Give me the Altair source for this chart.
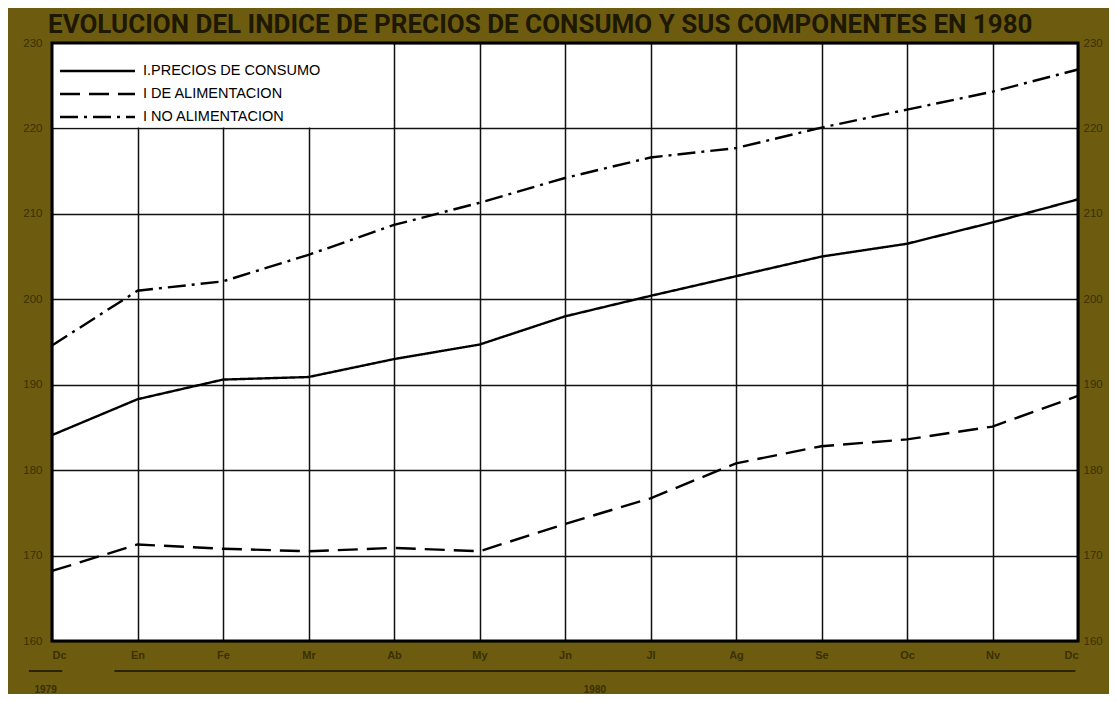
import json
import altair as alt
import pandas as pd

# ---------------- data ----------------
months = ["Dc", "En", "Fe", "Mr", "Ab", "My", "Jn", "Jl", "Ag", "Se", "Oc", "Nv", "Dc"]
series_names = ["I.PRECIOS DE CONSUMO", "I DE ALIMENTACION", "I NO ALIMENTACION"]
ipc = [184.1, 188.3, 190.6, 190.9, 193.0, 194.7, 198.0, 200.4, 202.7, 205.0, 206.5, 209.0, 211.7]
alim = [168.2, 171.3, 170.8, 170.5, 170.9, 170.5, 173.7, 176.7, 180.8, 182.8, 183.6, 185.1, 188.7]
no_alim = [194.6, 201.0, 202.1, 205.2, 208.7, 211.3, 214.2, 216.6, 217.7, 220.1, 222.2, 224.3, 226.9]
y_ticks = [160, 170, 180, 190, 200, 210, 220, 230]
years = ["1979", "1980"]
year_first = [0, 1]
year_last = [0, 12]
title_text = "EVOLUCION DEL INDICE DE PRECIOS DE CONSUMO Y SUS COMPONENTES EN 1980"

# ---------------- tables ----------------
rows = []
for name, vals in zip(series_names, [ipc, alim, no_alim]):
    for i, v in enumerate(vals):
        rows.append({"idx": i, "serie": name, "valor": v})
df = pd.DataFrame(rows)

W, H = 1026, 598
BG = "#6d5c10"
LAB = "#3a3000"
FONT = "Liberation Sans"

dash_range = [[1, 0], [20, 9], [18, 6, 3, 6]]
dash = alt.StrokeDash("serie:N", scale=alt.Scale(domain=series_names, range=dash_range), legend=None)

xscale = alt.Scale(domain=[0, len(months) - 1], nice=False, zero=False)
yscale = alt.Scale(domain=[y_ticks[0], y_ticks[-1]], nice=False, zero=False)

label_expr = json.dumps(months) + "[datum.value]"

x_axis = alt.Axis(values=list(range(len(months))), labelExpr=label_expr, grid=True,
                  gridColor="#111", gridWidth=1.5, gridOpacity=1, ticks=False, domain=False,
                  title=None, labelColor=LAB, labelFontSize=11, labelFontWeight="bold",
                  labelFont=FONT, labelPadding=8)
y_axis_left = alt.Axis(values=y_ticks, grid=True, gridColor="#111", gridWidth=1.5, gridOpacity=1,
                       ticks=False, domain=False, title=None, labelColor=LAB, labelFontSize=11.5,
                       labelFont=FONT, labelPadding=10)
y_axis_right = alt.Axis(values=y_ticks, orient="right", grid=False, ticks=False, domain=False,
                        title=None, labelColor=LAB, labelFontSize=11.5, labelFont=FONT, labelPadding=5)

lines = alt.Chart(df).mark_line(color="black", strokeWidth=2.4, strokeCap="butt").encode(
    x=alt.X("idx:Q", scale=xscale, axis=x_axis),
    y=alt.Y("valor:Q", scale=yscale, axis=y_axis_left),
    strokeDash=dash,
    detail="serie:N",
)

# right-hand axis (same scale)
right_axis = alt.Chart(pd.DataFrame({"v": y_ticks})).mark_point(opacity=0).encode(
    y=alt.Y("v:Q", scale=yscale, axis=y_axis_right)
)

# legend box (white cell over the grid, top-left)
leg_box = pd.DataFrame({"x0": [0 + 0.012], "x1": [4 - 0.012],
                        "y0": [y_ticks[-2] + 0.12], "y1": [y_ticks[-1]]})
legend_bg = alt.Chart(leg_box).mark_rect(fill="white", stroke=None).encode(
    x=alt.X("x0:Q", scale=xscale, axis=x_axis), x2="x1:Q",
    y=alt.Y("y0:Q", scale=yscale, axis=None), y2="y1:Q",
)

leg = pd.DataFrame({"serie": series_names, "ly": [28 + 23 * i for i in range(len(series_names))]})
legend_lines = alt.Chart(leg).mark_rule(color="black", strokeWidth=2.4).encode(
    x=alt.value(8), x2=alt.value(83),
    y=alt.Y("ly:Q", scale=None),
    strokeDash=dash,
)
legend_text = alt.Chart(leg).mark_text(align="left", baseline="middle", fontSize=14.5,
                                       font=FONT, color="black").encode(
    x=alt.value(91), y=alt.Y("ly:Q", scale=None), text="serie:N"
)

# frame around the plot area
frame = alt.Chart(pd.DataFrame({"a": [0]})).mark_rect(fill=None, stroke="black", strokeWidth=3).encode(
    x=alt.value(0), x2=alt.value(W), y=alt.value(0), y2=alt.value(H)
)

# year annotations below the month labels
yr = pd.DataFrame({
    "year": years,
    "x0": [f - 0.27 for f in year_first],
    "x1": [l + 0.12 if f == l else l - 0.03 for f, l in zip(year_first, year_last)],
})
yr["xm"] = (yr["x0"] + yr["x1"]) / 2
year_rules = alt.Chart(yr).mark_rule(color="#2a2300", strokeWidth=2).encode(
    x=alt.X("x0:Q", scale=xscale, axis=x_axis), x2="x1:Q", y=alt.value(H + 30)
)
year_text = alt.Chart(yr).mark_text(fontSize=10, font=FONT, fontWeight="bold", color=LAB,
                                    baseline="middle").encode(
    x=alt.X("xm:Q", scale=xscale, axis=x_axis), y=alt.value(H + 49), text="year:N"
)

# chart title drawn as a text mark above the plot area
title = alt.Chart(pd.DataFrame({"t": [title_text]})).mark_text(
    align="left", baseline="alphabetic", fontSize=26, fontWeight="bold", font="Roboto",
    color="#1e1800"
).encode(x=alt.value(-4), y=alt.value(-10), text="t:N")

chart = alt.layer(
    lines, right_axis, legend_bg, legend_lines, legend_text, frame, year_rules, year_text, title
).resolve_scale(y="independent").properties(
    width=W, height=H,
    autosize=alt.AutoSizeParams(type="none"),
    padding={"left": 44, "top": 35, "right": 31, "bottom": 53},
).configure(background=BG).configure_view(fill="white", stroke=None)

chart.save("out.html", embed_options={"renderer": "svg", "actions": False})
